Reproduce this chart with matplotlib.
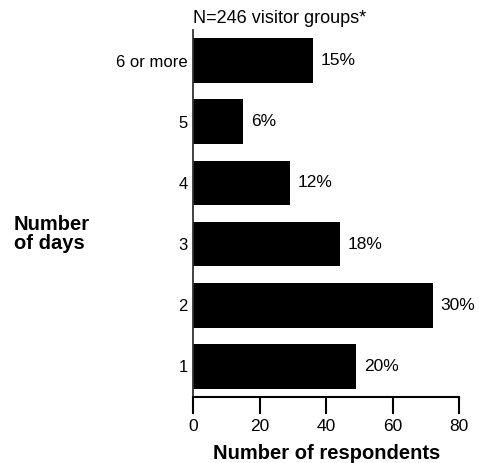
import matplotlib
matplotlib.use("Agg")
import matplotlib.pyplot as plt

categories = ["1", "2", "3", "4", "5", "6 or more"]
respondents = [49, 72, 44, 29, 15, 36]
percent_labels = ["20%", "30%", "18%", "12%", "6%", "15%"]
x_ticks = [0, 20, 40, 60, 80]

plt.rcParams['font.family'] = ['Liberation Sans', 'DejaVu Sans']

fig = plt.figure(figsize=(4.79, 4.63), dpi=100)
ax = fig.add_axes([0.4036, 0.1425, 0.5553, 0.7927])

pos = list(range(len(categories)))
ax.barh(pos, respondents, height=0.73, color="black")
for p, v, lab in zip(pos, respondents, percent_labels):
    ax.text(v + 2.3, p, lab, va="center", ha="left", fontsize=12.5)

ax.set_xlim(0, 80)
ax.set_ylim(-0.5, 5.5)
ax.set_yticks(pos)
ax.set_yticklabels(categories, fontsize=12)
ax.set_xticks(x_ticks)
ax.set_xticklabels([str(t) for t in x_ticks], fontsize=12.5)
ax.tick_params(axis="y", length=0, pad=4)
ax.tick_params(axis="x", length=12, width=1.5, pad=4, color="black")
for s in ["top", "right"]:
    ax.spines[s].set_visible(False)
ax.spines["left"].set_linewidth(1.3)
ax.spines["left"].set_color("#333333")
ax.spines["bottom"].set_linewidth(1.5)

ax.set_xlabel("Number of respondents", fontsize=14.5, fontweight="bold", labelpad=7)
fig.text(0.4025, 0.961, "N=246 visitor groups*", ha="left", va="center", fontsize=13)
fig.text(0.029, 0.495, "Number\nof days", ha="left", va="center", fontsize=14.5,
         fontweight="bold", linespacing=1.0)

fig.savefig("out.png", dpi=100)
